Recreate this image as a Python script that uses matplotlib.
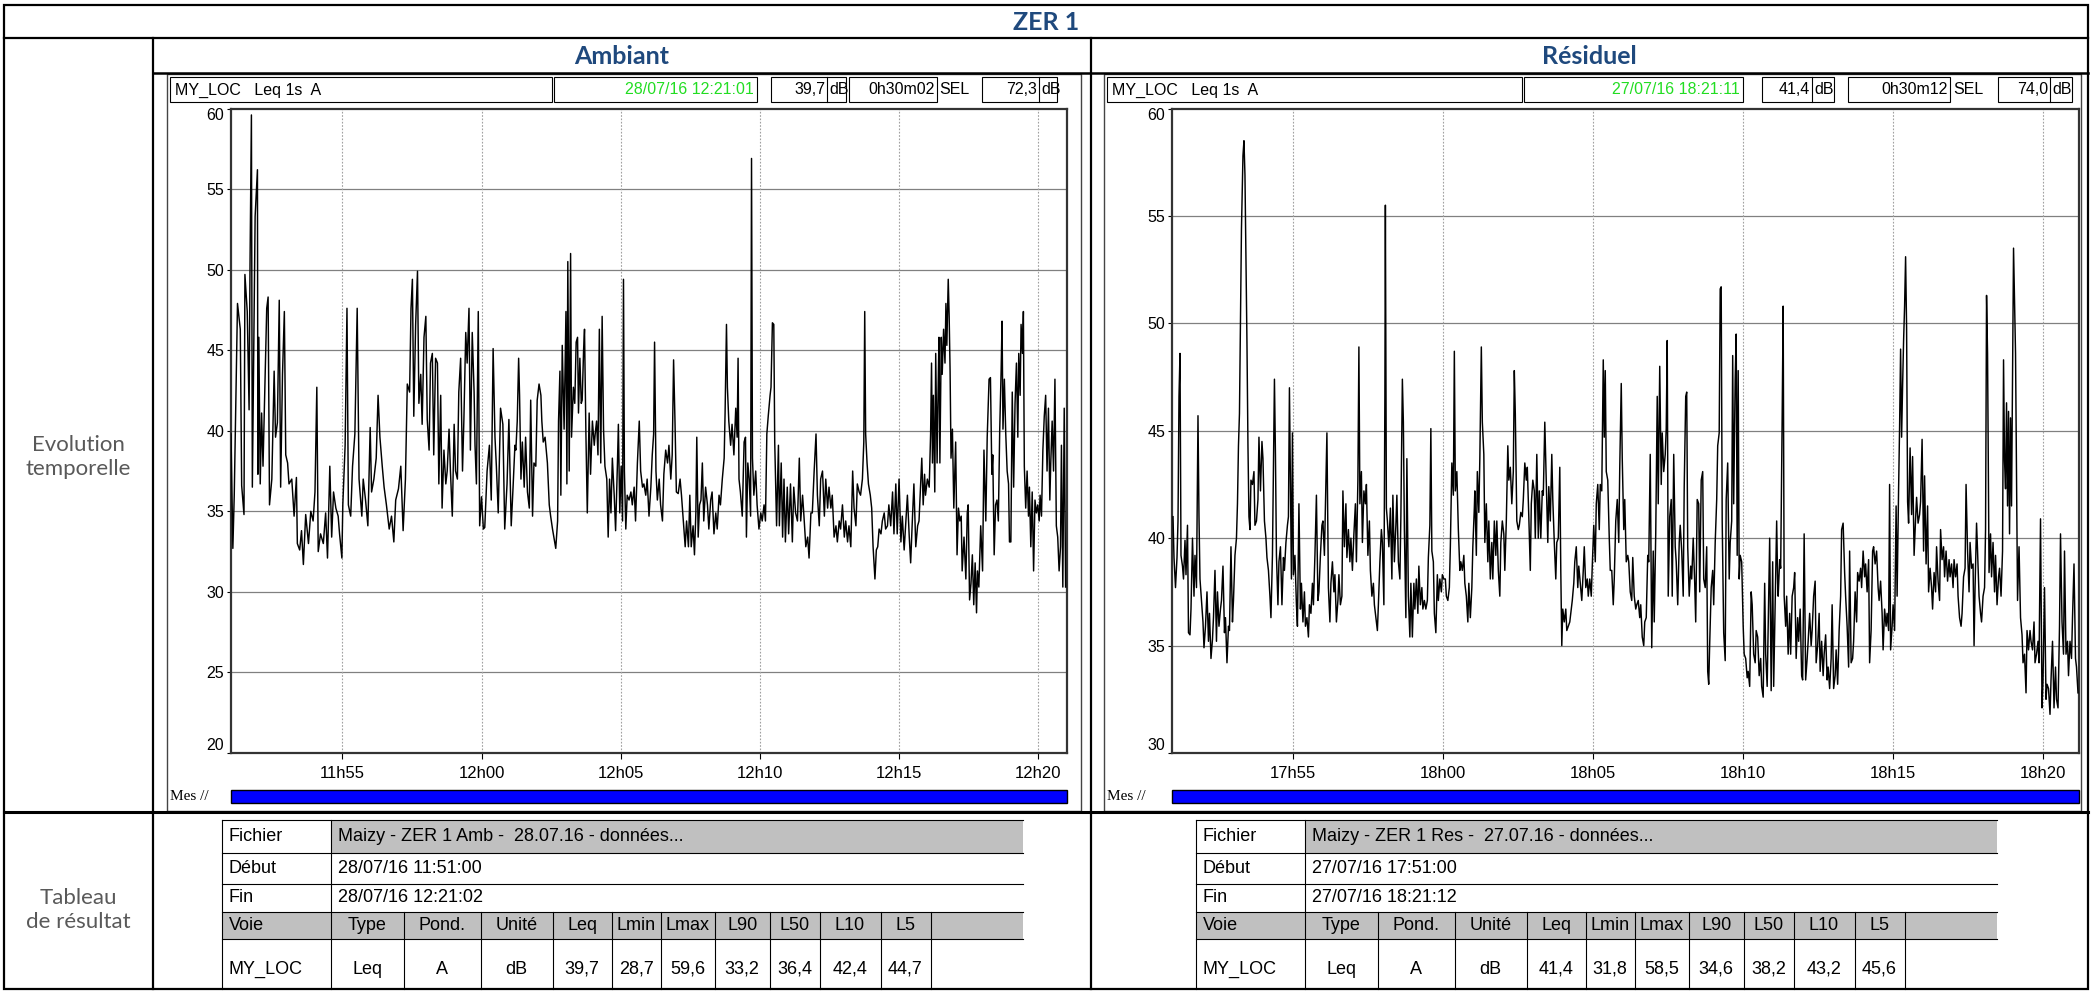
import matplotlib.pyplot as plt
from matplotlib.patches import Rectangle
from matplotlib import font_manager

# (seconds since start, dB)
amb_part1 = [(0, 39.8), (4, 32.7), (7, 36.0), (14, 47.9), (20, 46.3), (23, 36.6), (28, 34.8), (30, 49.7), (35, 47.4), (39, 41.3), (41, 50.3), (44, 59.6), (46, 36.5), (52, 53.3), (57, 56.2), (58, 37.3), (60, 45.8), (63, 36.7), (66, 41.1), (69, 37.8), (73, 42.7), (77, 47.6), (80, 48.3), (83, 35.4), (88, 37.0), (93, 43.7), (96, 39.6), (100, 40.5), (104, 48.1), (107, 36.5), (111, 43.5), (115, 47.4), (118, 38.5), (122, 38.0), (125, 36.7), (131, 37.0), (136, 34.7), (141, 37.1), (143, 33.0), (148, 32.6), (152, 33.8), (156, 31.7), (161, 34.8), (167, 33.0), (172, 35.0), (177, 34.4), (181, 36.2), (185, 42.7), (188, 32.5), (193, 33.6), (199, 33.0), (204, 34.9), (208, 32.1), (213, 37.8), (217, 33.4), (221, 36.2), (226, 35.2), (231, 34.7), (234, 33.6), (239, 32.1), (241, 35.4), (246, 39.1), (250, 47.6), (253, 35.4), (258, 34.7), (262, 37.8), (267, 39.8), (272, 47.6), (276, 37.0), (282, 34.7), (285, 37.0), (290, 35.7), (295, 34.1), (300, 40.2), (303, 36.2), (308, 37.0), (313, 38.3), (317, 42.2), (321, 39.6), (326, 37.8), (330, 36.5), (335, 35.4), (341, 33.9), (346, 34.7), (351, 33.1), (355, 35.7), (361, 36.4), (366, 37.8), (371, 33.8), (376, 37.0),
             (380, 42.9), (385, 42.4), (388, 47.6), (391, 49.4), (394, 40.9), (398, 46.6), (402, 49.9), (405, 41.7), (409, 43.5), (412, 40.4), (416, 45.8), (420, 47.1), (423, 40.7), (427, 38.8), (430, 44.2), (434, 44.8), (437, 38.5), (441, 44.5), (445, 44.2), (448, 36.7), (452, 42.2), (455, 35.2), (459, 38.8), (463, 36.7), (466, 37.5), (470, 40.1), (473, 37.5), (477, 34.7), (481, 40.4), (484, 37.5), (488, 37.0), (491, 42.4), (495, 44.5), (499, 37.5), (502, 40.7), (506, 46.1), (509, 44.2), (513, 47.6), (516, 38.8), (520, 46.1), (524, 42.4), (526, 39.1), (529, 36.7), (533, 47.4), (536, 34.1), (540, 35.9), (544, 33.9), (547, 34.0), (552, 37.5), (557, 39.1), (561, 35.7), (565, 45.1), (569, 39.6), (572, 37.8), (576, 34.9), (581, 41.4), (586, 40.4), (590, 33.9), (595, 36.7), (599, 40.7), (604, 34.1), (608, 36.5), (612, 39.1)]
amb_part2 = [(614, 38.8), (617, 40.6), (620, 44.5), (622, 42.2), (625, 37.0), (628, 39.3), (632, 36.5), (635, 39.6), (639, 36.2), (643, 35.2), (646, 41.9), (650, 34.7), (653, 38.0), (657, 37.8), (660, 41.9), (664, 42.9), (668, 42.2), (670, 40.6), (673, 39.3), (677, 39.6), (682, 38.0), (686, 35.4), (689, 34.7), (693, 33.9), (696, 33.4), (700, 32.7), (704, 34.4), (706, 40.6), (709, 43.7), (711, 36.0), (714, 45.3), (718, 40.1), (722, 47.4), (724, 36.7), (726, 50.5), (729, 37.5), (732, 51.0), (734, 39.6), (738, 42.7), (741, 41.7), (744, 45.5), (747, 45.8), (749, 41.1), (752, 44.5), (755, 41.7), (757, 41.9), (760, 45.0), (762, 46.3), (765, 39.8), (768, 34.9), (772, 41.1), (775, 37.3), (779, 40.6), (783, 39.1), (785, 39.8), (788, 40.6), (791, 38.5), (794, 46.3), (797, 38.0), (800, 47.1), (803, 40.1), (806, 37.8), (810, 37.0), (813, 33.4), (816, 37.0), (819, 34.9), (822, 38.3), (826, 36.0), (829, 33.8), (833, 38.0), (835, 40.4), (838, 34.9), (841, 37.8), (844, 34.4), (846, 49.4), (848, 37.5), (851, 33.9), (854, 36.0), (858, 35.7), (862, 36.2), (865, 35.4), (869, 36.5), (872, 34.4), (876, 38.0), (880, 40.6), (883, 37.5), (887, 36.5), (890, 36.7), (894, 36.0), (897, 37.0), (901, 34.7), (905, 36.5), (908, 38.5), (911, 39.8), (913, 45.5), (916, 37.5), (919, 35.7), (923, 37.0), (926, 35.4), (930, 34.4), (933, 37.3), (937, 38.8), (941, 38.0), (944, 39.1), (948, 37.0), (951, 38.5), (954, 44.4), (957, 40.6), (960, 36.2), (964, 36.1), (968, 37.0), (971, 36.0), (975, 34.4), (979, 32.8), (982, 34.4), (986, 32.8), (989, 36.0), (992, 32.8), (996, 34.1), (999, 32.3), (1002, 34.9), (1004, 39.6), (1007, 33.4), (1010, 35.4), (1013, 35.7), (1016, 38.0), (1019, 34.4), (1023, 36.5), (1027, 35.4), (1030, 33.9), (1034, 35.7), (1037, 36.2), (1041, 33.6), (1045, 34.9), (1048, 33.9), (1052, 36.0), (1055, 35.4), (1059, 37.0), (1063, 38.3), (1065, 41.1), (1068, 46.6), (1070, 42.7), (1073, 40.6), (1077, 39.1), (1080, 40.4), (1084, 38.5), (1088, 41.4), (1091, 39.6), (1093, 44.5), (1095, 37.0), (1098, 36.2), (1102, 34.7), (1106, 39.3), (1109, 39.6), (1111, 33.4), (1114, 38.0), (1117, 37.0), (1120, 34.7), (1122, 56.9), (1124, 38.3), (1127, 36.0), (1131, 37.5), (1134, 35.4), (1138, 33.9), (1142, 34.9), (1145, 34.4), (1149, 35.4), (1152, 34.4), (1155, 39.8), (1158, 40.9), (1162, 42.2), (1164, 42.7), (1167, 46.7), (1170, 46.6), (1172, 39.3), (1176, 34.1), (1180, 39.1), (1182, 34.1), (1186, 38.0), (1189, 33.4), (1192, 37.0), (1195, 33.1), (1199, 36.5), (1202, 33.6), (1206, 36.7), (1210, 33.1), (1213, 36.5), (1217, 34.9)]
amb_part3 = [(1221, 34.4), (1225, 38.3), (1228, 34.4), (1232, 36.0), (1235, 34.7), (1239, 32.8), (1243, 33.4), (1246, 32.1), (1250, 34.9), (1253, 34.9), (1257, 37.5), (1261, 39.8), (1264, 36.0), (1268, 34.1), (1271, 37.0), (1275, 37.5), (1279, 34.7), (1282, 37.0), (1286, 35.2), (1289, 36.5), (1293, 35.2), (1296, 36.0), (1300, 33.4), (1304, 34.1), (1307, 33.1), (1311, 34.4), (1314, 33.9), (1318, 35.4), (1322, 33.4), (1325, 34.4), (1329, 33.1), (1332, 34.1), (1336, 32.8), (1340, 37.5), (1343, 35.2), (1347, 34.1), (1350, 36.7), (1354, 36.2), (1357, 36.0), (1361, 37.0), (1364, 39.3), (1366, 47.4), (1368, 39.8), (1371, 38.0), (1374, 36.7), (1378, 36.0), (1381, 35.2), (1384, 32.8), (1388, 30.8), (1391, 32.6), (1394, 32.8), (1397, 33.9), (1401, 33.6), (1404, 34.4), (1408, 34.9), (1411, 33.9), (1415, 34.1), (1418, 35.4), (1422, 34.1), (1426, 36.2), (1429, 33.6), (1433, 36.7), (1436, 33.6), (1440, 37.0), (1444, 33.1), (1447, 34.7), (1451, 32.6), (1454, 34.1), (1458, 36.0), (1462, 33.4), (1465, 31.8), (1469, 34.7), (1472, 36.7), (1476, 32.8), (1480, 34.1), (1483, 34.4), (1487, 37.0), (1489, 38.3), (1492, 35.4), (1495, 37.3), (1497, 36.0), (1501, 37.0), (1505, 36.5), (1508, 39.8), (1510, 44.2), (1512, 38.0), (1514, 42.2), (1517, 36.2), (1519, 44.8), (1522, 38.0), (1524, 42.2), (1526, 45.8), (1528, 38.0), (1531, 45.8), (1533, 43.5), (1536, 46.3), (1539, 44.2), (1541, 47.9), (1543, 45.3), (1546, 49.4), (1548, 47.1), (1550, 43.7), (1552, 38.3), (1555, 40.1), (1558, 35.2), (1562, 39.3), (1565, 32.3), (1568, 35.2), (1571, 34.4), (1574, 34.7), (1576, 31.3), (1580, 33.4), (1584, 30.8), (1587, 34.9), (1589, 35.4), (1592, 29.5), (1595, 30.5), (1598, 32.3), (1601, 29.2), (1604, 31.8), (1607, 28.7), (1609, 31.3), (1612, 30.3), (1616, 34.1), (1620, 31.3), (1623, 38.8), (1627, 34.4), (1630, 39.6), (1634, 43.2), (1637, 43.3), (1640, 37.3), (1642, 38.5), (1645, 32.3), (1648, 35.4), (1651, 35.7), (1654, 34.4), (1657, 40.1), (1660, 43.7), (1662, 46.8), (1664, 40.1), (1667, 43.2), (1670, 39.8), (1673, 37.5), (1676, 36.7), (1678, 33.1), (1681, 33.1), (1684, 42.4), (1687, 36.5), (1690, 41.7), (1693, 44.2), (1696, 39.6), (1698, 44.8), (1701, 42.2), (1703, 46.6), (1706, 44.8), (1708, 47.4), (1710, 37.8), (1713, 35.2), (1716, 37.5), (1719, 34.7), (1721, 36.5), (1724, 32.8), (1727, 36.2), (1730, 31.3), (1733, 35.7), (1736, 34.9), (1739, 35.4), (1742, 34.4), (1744, 36.0), (1747, 34.7), (1750, 38.8), (1753, 40.9), (1756, 42.2), (1759, 37.5), (1762, 41.4), (1765, 35.7), (1767, 38.0), (1770, 40.6), (1773, 37.5), (1776, 43.2), (1779, 34.1), (1782, 33.4), (1785, 31.3), (1788, 32.8), (1790, 39.1), (1793, 30.3), (1796, 41.4), (1799, 30.3)]

res_part1 = [(0, 41.0), (2, 39.1), (5, 37.7), (8, 39.1), (10, 40.8), (12, 46.6), (14, 48.6), (16, 39.2), (19, 38.7), (21, 38.1), (24, 39.9), (26, 38.3), (29, 40.6), (31, 35.6), (34, 35.5), (36, 36.7), (39, 40.0), (42, 37.3), (44, 39.2), (47, 37.7), (50, 45.7), (52, 41.0), (54, 38.1), (57, 37.1), (60, 36.1), (62, 34.9), (65, 35.9), (68, 37.5), (71, 35.2), (73, 36.5), (76, 34.4), (79, 35.3), (81, 36.3), (84, 38.5), (87, 35.2), (89, 37.5), (92, 35.9), (95, 36.7), (97, 37.1), (100, 38.7), (103, 35.6), (105, 36.3), (108, 34.2), (111, 35.9), (113, 35.7), (116, 39.6), (119, 36.1), (121, 37.1), (124, 39.2), (127, 40.0), (129, 41.6), (131, 44.3), (133, 45.8), (135, 49.9), (137, 54.4), (140, 57.8), (142, 58.5), (144, 56.9), (146, 53.0), (148, 49.1), (150, 44.3), (152, 41.0), (154, 40.4), (156, 42.7), (159, 42.5), (162, 43.1), (164, 40.6), (167, 40.8), (170, 41.8), (172, 44.7), (175, 42.2), (178, 44.5), (180, 43.7), (183, 40.8), (186, 40.0), (188, 39.1), (191, 38.5), (194, 37.3), (196, 36.3), (199, 39.2), (201, 43.5), (203, 47.4), (205, 43.9), (207, 39.2), (210, 36.9), (212, 38.9), (215, 39.6), (218, 36.9), (221, 39.1), (223, 38.5), (226, 39.8), (229, 40.6), (231, 41.0), (233, 47.0), (235, 42.7), (237, 38.1), (239, 44.9), (241, 38.3), (244, 39.2), (247, 36.9), (249, 35.9), (252, 41.6), (255, 36.7), (257, 37.9), (260, 36.1), (263, 37.5), (265, 35.9), (268, 36.3), (271, 35.4), (273, 36.9), (276, 36.5), (279, 37.9), (281, 36.9), (284, 39.2), (287, 42.0), (290, 37.1), (292, 37.5), (295, 39.2), (298, 40.6), (300, 40.8), (303, 39.2), (306, 42.7), (308, 44.9), (311, 37.7), (314, 36.1), (316, 37.9), (319, 38.9), (322, 37.5), (324, 38.3), (327, 36.1), (330, 37.1), (332, 38.3), (335, 36.9), (338, 37.3), (340, 42.2), (343, 39.6), (346, 41.6), (348, 39.1), (351, 40.4), (354, 38.9), (356, 40.0), (359, 38.5), (362, 40.2), (365, 41.6), (367, 38.9), (370, 42.7), (372, 48.9), (374, 41.6), (377, 43.1), (379, 39.8), (382, 42.2), (385, 41.6), (387, 42.5), (390, 39.2), (393, 40.8), (395, 38.5), (398, 37.3), (401, 37.9), (403, 36.9), (406, 36.3), (409, 35.7), (411, 36.9), (414, 38.9), (417, 40.4), (419, 39.8), (422, 36.9), (424, 46.6), (425, 55.5), (427, 41.4), (429, 40.8), (432, 39.6), (435, 41.4), (438, 38.1), (440, 42.0), (443, 38.9), (446, 40.6), (448, 42.0), (451, 38.9), (454, 38.1), (456, 41.0), (459, 47.4), (461, 45.4), (463, 40.4), (466, 36.3), (468, 43.7), (471, 37.3), (474, 35.4), (476, 37.9), (479, 35.4), (482, 37.9), (484, 36.7), (487, 38.1), (490, 36.5), (492, 38.7), (495, 36.9), (498, 37.7), (500, 36.7), (503, 37.1), (506, 36.7), (509, 37.1), (511, 39.1), (514, 40.6), (516, 45.1), (518, 39.4), (521, 38.9), (523, 36.5), (526, 35.6), (529, 38.3), (531, 37.1), (534, 38.1), (537, 37.5), (539, 38.3), (542, 38.1), (545, 38.1), (547, 37.3), (550, 37.1), (553, 37.7), (555, 39.6), (558, 43.5), (561, 42.0), (563, 48.7), (565, 42.2), (568, 43.1), (571, 40.4), (574, 38.5), (576, 38.9), (579, 38.5), (582, 39.2), (584, 37.9), (587, 37.3), (590, 36.1), (592, 37.9), (595, 36.3), (598, 37.7), (600, 39.6), (603, 41.4)]
res_part2 = [(604, 42.2), (607, 39.2), (609, 43.1), (612, 41.2), (614, 43.7), (617, 48.9), (619, 45.4), (622, 43.9), (624, 39.8), (627, 41.6), (630, 38.9), (632, 40.8), (635, 38.1), (638, 39.8), (640, 38.1), (643, 40.8), (646, 39.2), (648, 40.8), (651, 38.5), (654, 37.3), (656, 39.8), (659, 40.8), (662, 40.2), (664, 38.5), (667, 40.8), (670, 44.3), (672, 42.7), (675, 43.3), (678, 41.6), (681, 43.1), (683, 47.8), (685, 45.8), (688, 40.8), (691, 40.4), (693, 40.6), (696, 41.2), (699, 41.0), (701, 41.8), (704, 43.5), (707, 42.7), (709, 43.3), (712, 41.0), (715, 38.5), (717, 41.6), (720, 42.7), (723, 42.2), (725, 40.0), (728, 43.9), (731, 40.0), (733, 42.2), (736, 40.0), (739, 42.2), (741, 42.0), (744, 45.4), (747, 42.5), (750, 39.8), (752, 42.4), (755, 40.8), (758, 43.9), (760, 41.8), (763, 39.8), (766, 38.1), (768, 39.8), (771, 40.0), (774, 43.3), (776, 38.5), (778, 35.0), (780, 36.7), (783, 36.1), (786, 36.7), (788, 35.7), (791, 35.9), (794, 36.1), (796, 36.5), (799, 37.1), (802, 37.9), (804, 38.9), (807, 39.6), (810, 37.7), (812, 38.7), (815, 37.9), (818, 37.1), (821, 38.5), (823, 39.6), (826, 37.7), (829, 38.1), (831, 37.3), (834, 38.1), (837, 37.3), (839, 38.7), (842, 40.6), (845, 38.9), (847, 41.6), (850, 42.5), (853, 40.4), (855, 42.5), (858, 42.2), (861, 48.3), (863, 44.7), (865, 47.8), (867, 43.1), (870, 42.7), (873, 40.0), (875, 38.5), (878, 38.5), (881, 36.9), (883, 38.1), (886, 40.8), (889, 41.8), (892, 39.8), (894, 43.3), (897, 47.2), (899, 43.7), (902, 40.4), (904, 41.8), (907, 38.9), (910, 39.2), (912, 38.9), (915, 37.5), (918, 37.1), (920, 39.1), (923, 37.3), (926, 36.7), (928, 36.9), (931, 37.1), (934, 36.3), (936, 36.9), (939, 35.4), (942, 35.0), (944, 36.1), (947, 36.3), (950, 39.2), (952, 38.9), (955, 43.9), (958, 34.9), (961, 39.4), (963, 36.1), (966, 40.2), (969, 46.6), (971, 41.6), (974, 48.0), (977, 42.5), (979, 44.9), (982, 43.1), (985, 43.9), (987, 45.1), (989, 49.2), (991, 37.3), (994, 41.0), (997, 41.8), (999, 37.3), (1002, 43.9), (1005, 39.6), (1007, 38.9), (1010, 36.9), (1013, 39.8), (1015, 40.6), (1018, 39.4), (1021, 37.3), (1023, 42.4), (1026, 46.6), (1028, 46.8), (1030, 39.6), (1033, 37.3), (1036, 38.7), (1038, 38.1), (1041, 40.0), (1044, 37.9), (1046, 36.1), (1049, 41.8), (1052, 41.6), (1054, 37.5), (1057, 42.7), (1060, 43.1), (1062, 38.1), (1065, 37.7), (1068, 39.6), (1070, 33.8), (1072, 33.2), (1074, 35.1), (1077, 37.7), (1080, 38.5), (1082, 36.9), (1085, 39.8), (1088, 41.8), (1090, 44.3), (1093, 44.9), (1095, 51.6), (1097, 51.7), (1099, 40.8), (1102, 35.6), (1105, 34.3), (1107, 41.8), (1110, 43.5), (1113, 38.1), (1115, 39.8), (1118, 40.8), (1120, 48.5), (1122, 41.6), (1125, 47.4), (1127, 49.5), (1129, 39.2), (1131, 47.8), (1133, 38.1), (1135, 39.2), (1138, 38.9), (1141, 35.9), (1143, 34.6), (1146, 34.4), (1149, 33.5), (1151, 33.8), (1154, 33.1), (1157, 37.5), (1159, 36.9), (1162, 34.6), (1165, 34.2), (1167, 35.7), (1170, 35.4), (1173, 33.6), (1176, 34.4), (1178, 33.1), (1181, 32.6), (1184, 37.9), (1186, 34.6), (1189, 33.1), (1192, 37.3), (1194, 40.0), (1197, 32.9), (1200, 38.9), (1202, 33.1), (1205, 36.9), (1208, 40.8), (1210, 37.9)]
res_part3 = [(1211, 37.3), (1214, 39.0), (1216, 38.6), (1219, 45.6), (1221, 50.8), (1223, 37.3), (1226, 35.9), (1228, 37.3), (1231, 34.6), (1234, 36.5), (1236, 34.6), (1239, 37.3), (1242, 37.7), (1244, 38.4), (1247, 34.4), (1250, 36.3), (1252, 35.2), (1255, 36.7), (1258, 33.6), (1260, 33.4), (1263, 40.2), (1266, 33.4), (1269, 34.4), (1271, 35.2), (1274, 36.5), (1277, 35.0), (1279, 35.7), (1282, 37.3), (1285, 38.0), (1287, 34.2), (1290, 35.0), (1293, 36.5), (1295, 33.8), (1298, 35.2), (1301, 33.6), (1303, 34.6), (1306, 35.5), (1309, 33.4), (1311, 34.0), (1314, 33.0), (1317, 34.4), (1319, 36.9), (1322, 33.0), (1325, 33.6), (1327, 34.8), (1330, 33.2), (1333, 35.7), (1336, 37.3), (1338, 40.4), (1341, 40.7), (1344, 38.4), (1346, 37.3), (1349, 35.9), (1352, 34.0), (1354, 39.4), (1357, 34.2), (1360, 34.4), (1362, 35.2), (1365, 37.5), (1368, 36.1), (1370, 38.4), (1373, 38.0), (1376, 38.6), (1378, 37.7), (1381, 39.4), (1384, 38.2), (1386, 38.8), (1389, 37.5), (1392, 39.0), (1394, 34.2), (1397, 35.7), (1400, 39.4), (1402, 39.6), (1405, 38.8), (1408, 39.4), (1411, 37.7), (1413, 37.1), (1416, 38.0), (1419, 36.5), (1421, 34.8), (1424, 36.7), (1427, 35.9), (1429, 36.5), (1432, 35.7), (1434, 42.5), (1436, 34.8), (1439, 35.9), (1441, 36.9), (1444, 35.7), (1447, 41.5), (1449, 37.3), (1452, 42.3), (1454, 45.2), (1456, 48.8), (1458, 44.7), (1460, 47.1), (1462, 49.2), (1464, 50.8), (1466, 53.1), (1468, 49.8), (1470, 41.7), (1472, 40.7), (1475, 44.2), (1478, 41.1), (1480, 43.8), (1483, 39.2), (1486, 40.9), (1488, 41.9), (1491, 40.7), (1494, 41.1), (1496, 41.7), (1499, 44.6), (1502, 39.4), (1504, 42.9), (1507, 38.8), (1510, 41.5), (1512, 37.5), (1515, 38.6), (1518, 37.7), (1520, 36.7), (1523, 38.4), (1526, 37.5), (1528, 39.6), (1531, 38.0), (1534, 37.1), (1536, 40.4), (1539, 39.0), (1542, 39.6), (1544, 38.2), (1547, 39.4), (1550, 38.0), (1553, 39.0), (1555, 38.2), (1558, 38.8), (1561, 37.7), (1563, 39.0), (1566, 38.2), (1569, 38.8), (1571, 37.3), (1574, 36.3), (1577, 35.9), (1579, 36.5), (1582, 38.2), (1585, 38.6), (1587, 42.5), (1590, 39.4), (1593, 37.5), (1595, 39.8), (1598, 38.6), (1601, 38.8), (1603, 35.0), (1605, 37.7), (1608, 40.7), (1610, 39.4), (1613, 37.3), (1616, 36.5), (1618, 36.1), (1621, 37.3), (1624, 37.7), (1626, 40.4), (1628, 51.3), (1630, 48.6), (1633, 38.4), (1636, 40.2), (1638, 38.2), (1641, 39.8), (1644, 37.5), (1646, 39.2), (1649, 36.9), (1652, 38.2), (1654, 38.6), (1657, 37.3), (1660, 39.4), (1662, 48.3), (1664, 43.6), (1666, 42.3), (1668, 46.3), (1670, 41.5), (1672, 45.9), (1674, 40.2), (1676, 45.6), (1678, 41.5), (1680, 47.7), (1682, 53.5), (1684, 51.0), (1686, 48.6), (1688, 42.9), (1690, 37.1), (1693, 39.6), (1696, 36.3), (1699, 35.5), (1701, 34.2), (1704, 34.6), (1707, 32.8), (1709, 35.7), (1712, 34.8), (1715, 35.7), (1717, 35.2), (1720, 34.8), (1723, 36.1), (1725, 34.2), (1728, 34.6), (1731, 35.2), (1733, 34.2), (1736, 40.9), (1739, 32.1), (1741, 33.4), (1744, 37.7), (1747, 32.5), (1749, 33.2), (1752, 33.0), (1755, 31.8), (1757, 33.4), (1760, 35.2), (1763, 32.1), (1766, 34.0), (1768, 32.5), (1771, 32.1), (1774, 35.9), (1776, 40.2), (1779, 36.1), (1782, 34.6), (1784, 39.4), (1787, 34.6), (1790, 35.2), (1792, 33.6), (1795, 35.2), (1798, 34.4), (1800, 36.3), (1803, 38.8), (1806, 34.4), (1808, 34.0), (1811, 32.8)]

tick_sec = [240, 540, 840, 1140, 1440, 1740]
amb_ticks = ["11h55", "12h00", "12h05", "12h10", "12h15", "12h20"]
res_ticks = ["17h55", "18h00", "18h05", "18h10", "18h15", "18h20"]

amb_head = ["28/07/16 12:21:01", "39,7", "0h30m02", "72,3"]
res_head = ["27/07/16 18:21:11", "41,4", "0h30m12", "74,0"]

row_names = ["Fichier", "Début", "Fin"]
amb_info = ["Maizy - ZER 1 Amb -  28.07.16 - données...", "28/07/16 11:51:00", "28/07/16 12:21:02"]
res_info = ["Maizy - ZER 1 Res -  27.07.16 - données...", "27/07/16 17:51:00", "27/07/16 18:21:12"]
col_names = ["Voie", "Type", "Pond.", "Unité", "Leq", "Lmin", "Lmax", "L90", "L50", "L10", "L5"]
amb_row = ["MY_LOC", "Leq", "A", "dB", "39,7", "28,7", "59,6", "33,2", "36,4", "42,4", "44,7"]
res_row = ["MY_LOC", "Leq", "A", "dB", "41,4", "31,8", "58,5", "34,6", "38,2", "43,2", "45,6"]


def pick_font(name, fallback):
    try:
        font_manager.findfont(name, fallback_to_default=False)
        return name
    except ValueError:
        return fallback


NARROW = pick_font("Liberation Sans Narrow", "Liberation Sans")
SANS = "Liberation Sans"
NAVY = "#1F497D"
GREY = "#C0C0C0"

W, H = 2091, 993
fig = plt.figure(figsize=(W / 100, H / 100), dpi=100)
bg = fig.add_axes([0, 0, 1, 1])
bg.set_xlim(0, W)
bg.set_ylim(H, 0)
bg.axis("off")


def line(xs, ys, lw=1.5, color="black"):
    bg.plot(xs, ys, color=color, lw=lw, solid_capstyle="projecting")


def box(x0, y0, x1, y1, fc="none", ec="black", lw=0.8):
    bg.add_patch(Rectangle((x0, y0), x1 - x0, y1 - y0, fc=fc, ec=ec, lw=lw))


def px_axes(x0, y0, x1, y1):
    return fig.add_axes([x0 / W, 1 - y1 / H, (x1 - x0) / W, (y1 - y0) / H])


# outer grid of the report
box(4, 5, 2088, 989, lw=1.6)
line([4, 2088], [38, 38], 1.6)
line([153, 2088], [73, 73], 1.8)
line([4, 2088], [812, 812], 2.2)
line([153, 153], [38, 989], 1.6)
line([1091, 1091], [38, 989], 1.6)

for x, y, txt in [(1046, 22, "ZER 1"), (622, 56, "Ambiant"), (1589, 56, "Résiduel")]:
    bg.text(x, y, txt, ha="center", va="center", family="Lato",
            weight="bold", size=18, color=NAVY)
bg.text(78, 457, "Evolution\ntemporelle", ha="center", va="center",
        family="Lato", size=16, color="#595959", linespacing=1.2)
bg.text(78, 910, "Tableau\nde résultat", ha="center", va="center",
        family="Lato", size=16, color="#595959", linespacing=1.2)


def draw_panel(lay, head, parts, ylo, labels, xlim):
    fx0, fx1 = lay["frame"]
    box(fx0, 74, fx1, 811, ec="#444444", lw=1.0)
    # header strip
    ty = 90
    hs = 11.5
    n0, n1 = lay["name"]
    box(n0, 77, n1, 102)
    bg.text(n0 + 5, ty, "MY_LOC   Leq 1s  A", va="center", family=NARROW, size=hs)
    d0, d1 = lay["date"]
    box(d0, 77, d1, 102)
    bg.text(d1 - 3, ty, head[0], ha="right", va="center", family=NARROW,
            size=hs, color="#22DD22")
    v0, v1, vd = lay["val"]
    box(v0, 77, v1, 102)
    line([vd, vd], [77, 102], 0.8)
    bg.text(vd - 2, ty, head[1], ha="right", va="center", family=NARROW, size=hs)
    bg.text(vd + 2, ty, "dB", va="center", family=NARROW, size=hs)
    u0, u1 = lay["dur"]
    box(u0, 77, u1, 102)
    bg.text(u1 - 2, ty, head[2], ha="right", va="center", family=NARROW, size=hs)
    bg.text(lay["sel"], ty, "SEL", va="center", family=NARROW, size=hs)
    s0, s1, sd = lay["selv"]
    box(s0, 77, s1, 102)
    line([sd, sd], [77, 102], 0.8)
    bg.text(sd - 2, ty, head[3], ha="right", va="center", family=NARROW, size=hs)
    bg.text(sd + 2, ty, "dB", va="center", family=NARROW, size=hs)

    # time history
    p0, p1 = lay["plot"]
    ax = px_axes(p0, 108.5, p1, 753)
    sec, db = zip(*(parts[0] + parts[1] + parts[2]))
    ax.plot(sec, db, color="black", lw=1.05, zorder=3)
    ax.set_xlim(*xlim)
    ax.set_ylim(ylo, 60)
    yt = list(range(ylo, 61, 5))
    ax.set_yticks(yt, labels=[str(v) for v in yt])
    ax.set_xticks(tick_sec, labels=labels)
    for v in yt[1:-1]:
        ax.axhline(v, color="#808080", lw=0.9, zorder=1)
    for s in tick_sec:
        ax.axvline(s, color="#A0A0A0", lw=0.8, ls=(0, (1.5, 1.5)), zorder=1)
    ylabs = ax.get_yticklabels()
    ylabs[0].set_va("bottom")
    ylabs[-1].set_va("top")
    for t in ylabs:
        t.set_family(SANS)
        t.set_fontsize(11.5)
    for t in ax.get_xticklabels():
        t.set_family(NARROW)
        t.set_fontsize(12)
    ax.tick_params(axis="y", direction="out", length=3, width=0.8, pad=2)
    ax.tick_params(axis="x", direction="out", length=4, width=0.8, pad=5)
    for sp in ax.spines.values():
        sp.set_color("#333333")
        sp.set_linewidth(1.6)

    # "Mes //" strip
    box(p0, 790, p1, 803, fc="#0000FF", ec="black", lw=1.0)
    bg.text(fx0 + 3, 797, "Mes //", va="center", family="Liberation Serif", size=11)


amb_lay = dict(frame=(167, 1081), name=(170, 552), date=(554, 757),
               val=(771, 846, 827), dur=(849, 937), sel=939,
               selv=(982, 1057, 1039), plot=(231, 1067))
res_lay = dict(frame=(1104, 2081), name=(1107, 1522), date=(1524, 1743),
               val=(1762, 1834, 1812), dur=(1848, 1950), sel=1953,
               selv=(1998, 2072, 2050), plot=(1172, 2079))

draw_panel(amb_lay, amb_head, [amb_part1, amb_part2, amb_part3], 20, amb_ticks, (0, 1802))
draw_panel(res_lay, res_head, [res_part1, res_part2, res_part3], 30, res_ticks, (-2, 1813))


def draw_table(left, info, values):
    edges = [0, 109, 182, 259, 331.5, 390, 439.5, 493, 548.5, 598, 659, 709]
    right = left + 801
    rows = [820, 853, 884, 912, 939, 989]
    box(left + edges[1], rows[0], right, rows[1], fc=GREY, ec="none", lw=0)
    box(left, rows[3], right, rows[4], fc=GREY, ec="none", lw=0)
    for y in rows[:5]:
        line([left, right], [y, y], 0.8)
    line([left, left], [rows[0], rows[5]], 0.8)
    line([left + edges[1], left + edges[1]], [rows[0], rows[5]], 0.8)
    for e in edges[2:]:
        line([left + e, left + e], [rows[3], rows[5]], 0.8)
    fs = 13
    for i, name in enumerate(row_names):
        yc = (rows[i] + rows[i + 1]) / 2
        bg.text(left + 7, yc, name, va="center", family=SANS, size=fs)
        bg.text(left + edges[1] + 7, yc, info[i], va="center", family=SANS, size=fs)
    for r, cells in ((3, col_names), (4, values)):
        yc = (rows[r] + rows[r + 1]) / 2 if r == 3 else rows[4] + 30
        for j, txt in enumerate(cells):
            if j == 0:
                bg.text(left + 7, yc, txt, va="center", family=SANS, size=fs)
            else:
                xc = left + (edges[j] + edges[j + 1]) / 2
                bg.text(xc, yc, txt, ha="center", va="center", family=SANS, size=fs)


draw_table(221.5, amb_info, amb_row)
draw_table(1195.5, res_info, res_row)

fig.savefig("out.png", dpi=100)
